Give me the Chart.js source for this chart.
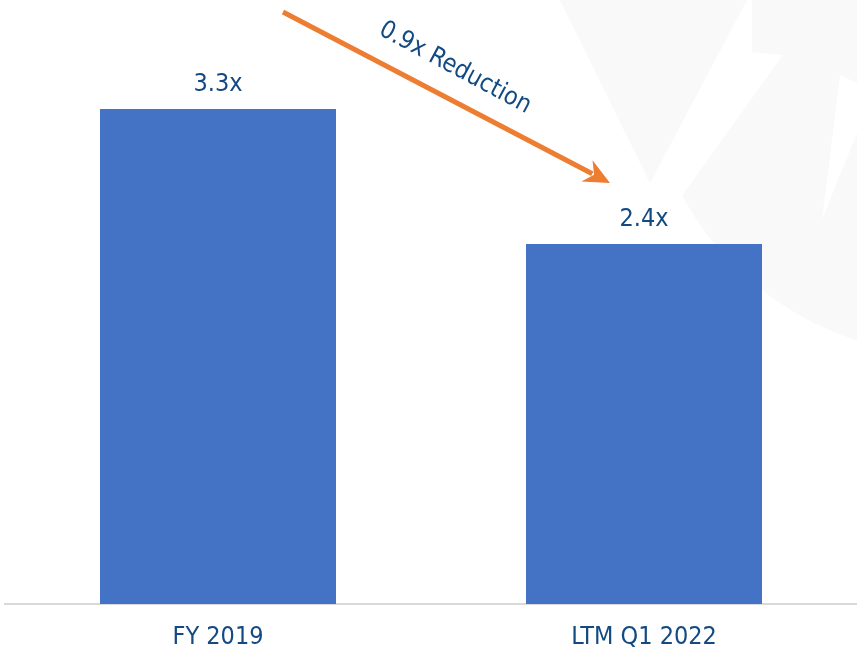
<!DOCTYPE html>
<html lang="en">
<head>
    <meta charset="UTF-8">
    <title>Leverage Reduction</title>
    <script src="https://cdn.jsdelivr.net/npm/chart.js"></script>
    <style>
        html, body {
            margin: 0;
            padding: 0;
            background: #ffffff;
            overflow: hidden;
        }
        .chart-box {
            width: 857px;
            height: 653px;
            overflow: hidden;
        }
    </style>
</head>
<body>
    <div class="chart-box">
        <canvas id="leverageChart" width="857" height="662"></canvas>
    </div>

    <script>
        // Chart data
        const periods = ["FY 2019", "LTM Q1 2022"];
        const leverage = [3.3, 2.4];
        const valueLabels = ["3.3x", "2.4x"];
        const arrowText = "0.9x Reduction";

        const textBlue = "#134a82";
        const labelFont = "25px 'DejaVu Sans Condensed', 'DejaVu Sans', sans-serif";

        // faint logo watermark behind the bars
        const watermark = {
            id: "watermark",
            beforeDraw(chart) {
                const ctx = chart.ctx;
                ctx.save();
                ctx.fillStyle = "#f9f9f9";
                ctx.beginPath();
                ctx.arc(950, 50, 305, 0, Math.PI * 2);
                ctx.fill();
                // gap between the disc and the triangle
                ctx.fillStyle = "#ffffff";
                ctx.beginPath();
                ctx.moveTo(560, 0);
                ctx.lineTo(752, 0);
                ctx.lineTo(752, 52);
                ctx.lineTo(783, 55);
                ctx.lineTo(560, 366);
                ctx.closePath();
                ctx.fill();
                ctx.beginPath();
                ctx.moveTo(840, 75);
                ctx.lineTo(857, 83);
                ctx.lineTo(857, 133);
                ctx.lineTo(822, 220);
                ctx.closePath();
                ctx.fill();
                ctx.fillStyle = "#f9f9f9";
                ctx.beginPath();
                ctx.moveTo(560, 0);
                ctx.lineTo(747, 0);
                ctx.lineTo(650, 183);
                ctx.closePath();
                ctx.fill();
                ctx.restore();
            }
        };

        // "3.3x" / "2.4x" above each bar
        const barValues = {
            id: "barValues",
            afterDatasetsDraw(chart) {
                const ctx = chart.ctx;
                const meta = chart.getDatasetMeta(0);
                ctx.save();
                ctx.font = labelFont;
                ctx.fillStyle = textBlue;
                ctx.textAlign = "center";
                ctx.textBaseline = "alphabetic";
                meta.data.forEach((bar, i) => {
                    ctx.fillText(valueLabels[i], bar.x, bar.y - 18);
                });
                ctx.restore();
            }
        };

        // orange arrow with the reduction note
        const reductionArrow = {
            id: "reductionArrow",
            afterDraw(chart) {
                const ctx = chart.ctx;
                const x1 = 283, y1 = 12, x2 = 610, y2 = 183;
                const ang = Math.atan2(y2 - y1, x2 - x1);
                const headLen = 26, headHalf = 12;
                const dx = Math.cos(ang), dy = Math.sin(ang);

                ctx.save();
                ctx.strokeStyle = "#ed7d31";
                ctx.fillStyle = "#ed7d31";
                ctx.lineWidth = 5;
                ctx.beginPath();
                ctx.moveTo(x1, y1);
                ctx.lineTo(x2 - dx * (headLen - 6), y2 - dy * (headLen - 6));
                ctx.stroke();

                const bx = x2 - dx * headLen, by = y2 - dy * headLen;
                ctx.beginPath();
                ctx.moveTo(x2, y2);
                ctx.lineTo(bx - dy * headHalf, by + dx * headHalf);
                ctx.lineTo(x2 - dx * (headLen - 8), y2 - dy * (headLen - 8));
                ctx.lineTo(bx + dy * headHalf, by - dx * headHalf);
                ctx.closePath();
                ctx.fill();

                ctx.translate(455, 68);
                ctx.rotate(28.2 * Math.PI / 180);
                ctx.font = labelFont;
                ctx.fillStyle = textBlue;
                ctx.textAlign = "center";
                ctx.textBaseline = "middle";
                ctx.fillText(arrowText, 0, 0);
                ctx.restore();
            }
        };

        new Chart(document.getElementById("leverageChart"), {
            type: "bar",
            data: {
                labels: periods,
                datasets: [{
                    data: leverage,
                    backgroundColor: "#4472c4",
                    borderWidth: 0,
                    barPercentage: 1,
                    categoryPercentage: 0.554
                }]
            },
            options: {
                responsive: false,
                animation: false,
                layout: {
                    padding: { left: 5, right: 0, top: 4, bottom: 0 }
                },
                plugins: {
                    legend: { display: false },
                    tooltip: { enabled: false }
                },
                scales: {
                    x: {
                        grid: { display: false },
                        border: { display: true, color: "#d9d9d9", width: 2 },
                        ticks: {
                            color: textBlue,
                            font: { family: "'DejaVu Sans Condensed', 'DejaVu Sans', sans-serif", size: 25 },
                            padding: 10,
                            maxRotation: 0
                        }
                    },
                    y: {
                        display: false,
                        min: 0,
                        max: 4
                    }
                }
            },
            plugins: [watermark, barValues, reductionArrow]
        });
    </script>
</body>
</html>
